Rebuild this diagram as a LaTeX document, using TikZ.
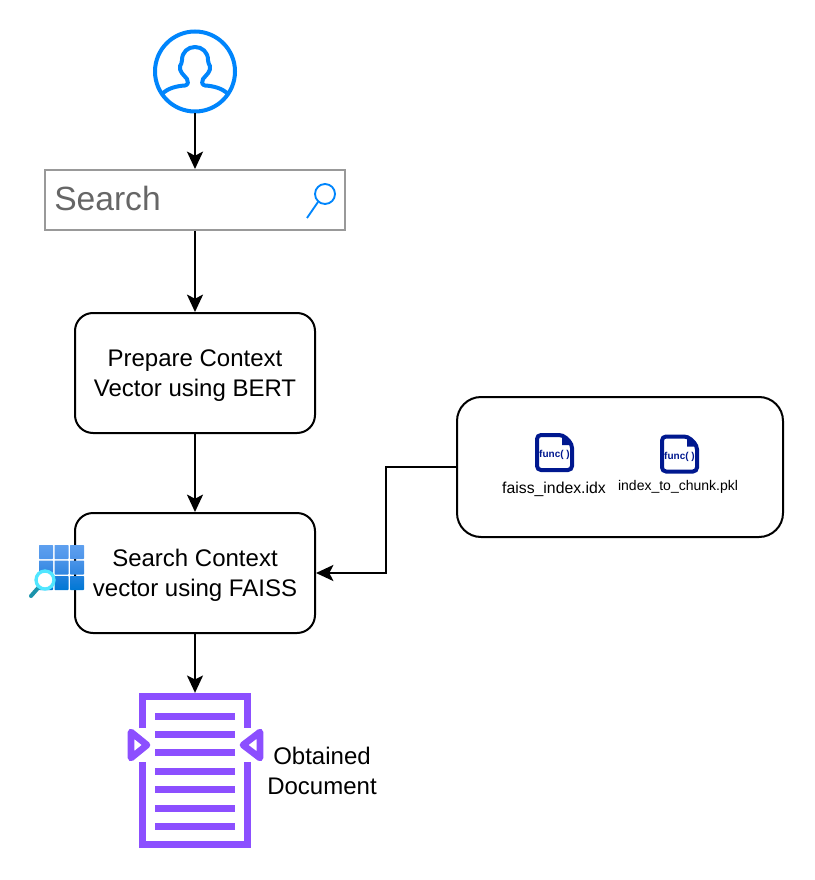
\documentclass[tikz,border=0pt]{standalone}
\usepackage{fontspec}
\setmainfont{Liberation Sans}
\usetikzlibrary{arrows.meta}
\definecolor{userblue}{HTML}{0085FC}
\definecolor{searchgray}{HTML}{999999}
\definecolor{searchtext}{HTML}{666666}
\definecolor{funcblue}{HTML}{00188F}
\definecolor{docpurple}{HTML}{8C4FFF}
\definecolor{lensring}{HTML}{50E6FF}
\definecolor{lenshandle}{HTML}{1B93AB}
\definecolor{gridtop}{HTML}{5EA0EF}
\definecolor{gridhigh}{HTML}{4E95EA}
\definecolor{gridmid}{HTML}{4A93E8}
\definecolor{gridsoft}{HTML}{2F86E0}
\definecolor{gridlow}{HTML}{1F80DC}
\definecolor{gridend}{HTML}{0078D4}
\tikzset{
    flowbox/.style={draw, line width=1.5pt, rounded corners=13.5pt, minimum width=180pt, minimum height=90pt,
        align=center, font=\fontsize{18}{22.5}\selectfont, text height=38.5pt},
    flowline/.style={line width=1.5pt, -{Stealth[length=13pt,width=12pt,inset=3pt]}},
    funcicon/.pic={
        \draw[funcblue, line width=3pt, rounded corners=3pt, fill=white] (2,2) -- (28,2) -- (37,11) -- (37,37) -- (2,37) -- cycle;
        \fill[funcblue] (27,2) -- (37,12) -- (27,12) -- cycle;
        \node[funcblue, font=\fontsize{7.5}{9}\selectfont\bfseries] (-label) at (19.5,22) {func( )};
    }
}
\begin{document}
\begin{tikzpicture}[x=0.75pt, y=-0.75pt]
    \useasboundingbox (0,0) rectangle (814,880);

    \node[circle, draw=userblue, line width=3pt, minimum size=60pt] (user) at (195,71.5) {};
    \draw[userblue, line width=3pt, line join=round] (162,94) .. controls (168,88) and (177,86) .. (185,85.5)
        .. controls (188.5,85) and (188.5,81) .. (187,79) .. controls (184,75) and (179,72) .. (180,66)
        .. controls (181,64) and (182,63) .. (182,60) .. controls (182,52) and (188,47) .. (195,47)
        .. controls (202,47) and (208,52) .. (208,60) .. controls (208,63) and (209,64) .. (210,66)
        .. controls (211,72) and (206,75) .. (203,79) .. controls (201.5,81) and (201.5,85) .. (205,85.5)
        .. controls (213,86) and (222,88) .. (228,94);

    \node[draw=searchgray, line width=1.5pt, minimum width=225pt, minimum height=45pt] (search) at (195,200) {};
    \node[anchor=west, inner sep=0pt, text=searchtext, font=\fontsize{25.2}{30}\selectfont] (searchtext) at (54,198.5) {Search};
    \draw[userblue, line width=1.4pt] (325,194) circle (10);
    \draw[userblue, line width=1.4pt] (318,202) -- (307,218);

    \node[flowbox] (context) at (195,373) {Prepare Context\\Vector using BERT};
    \node[flowbox] (faiss) at (195,573) {Search Context\\vector using FAISS};
    \node[draw, line width=1.5pt, rounded corners=18pt, minimum width=244.5pt, minimum height=105pt] (files) at (620,467) {};

    \foreach \row/\ctop/\cbot in {0/gridtop/gridhigh, 1/gridmid/gridsoft, 2/gridlow/gridend}
        \foreach \col in {0,1,2}
            \shade[top color=\ctop, bottom color=\cbot, rounded corners=0.5pt]
                (39+15.5*\col,545+15.5*\row) rectangle ++(14,14);
    \draw[lenshandle, line width=3pt, line cap=round] (38,588) -- (31,596);
    \draw[lensring, line width=2.5pt, fill=white] (45,580) circle (9);

    \pic (idxicon) at (535,433) {funcicon};
    \pic (pklicon) at (660,434.5) {funcicon};
    \node[font=\fontsize{11.85}{14}\selectfont] (idxlabel) at (554,489.5) {faiss\_index.idx};
    \node[font=\fontsize{10.5}{13}\selectfont] (pkllabel) at (678,487) {index\_to\_chunk.pkl};

    \node[minimum width=84pt, minimum height=116.5pt, inner sep=0pt, outer sep=0pt] (document) at (195,770.5) {};
    \draw[docpurple, line width=5.25pt] (142.5,728) -- (142.5,696.5) -- (247.5,696.5) -- (247.5,728);
    \draw[docpurple, line width=5.25pt] (142.5,762) -- (142.5,844.5) -- (247.5,844.5) -- (247.5,762);
    \foreach \liney in {716,734,752,771,789,808,826}
        \draw[docpurple, line width=5.25pt] (155,\liney) -- (235,\liney);
    \draw[docpurple, line width=5pt, line join=round] (131,732) -- (131,758) -- (147,745) -- cycle;
    \draw[docpurple, line width=5pt, line join=round] (260,732) -- (260,758) -- (243,745) -- cycle;
    \node[align=center, font=\fontsize{18}{22.5}\selectfont] (doclabel) at (322,771) {Obtained\\Document};

    \draw[flowline] (user) -- (search);
    \draw[flowline] (search) -- (context);
    \draw[flowline] (context) -- (faiss);
    \draw[flowline] (faiss) -- (document);
    \draw[flowline] (files.west) -- ++(-70.5,0) |- (faiss.east);
\end{tikzpicture}
\end{document}
